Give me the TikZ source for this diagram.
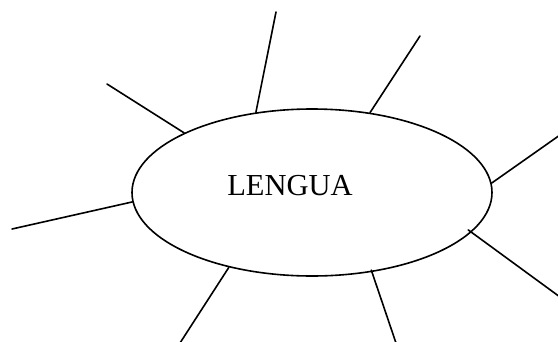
\documentclass[tikz,border=0pt]{standalone}
\usepackage{fontspec}
\setmainfont{Liberation Serif}
\usetikzlibrary{shapes.geometric}
\begin{document}
\begin{tikzpicture}[x=1pt,y=-1pt,
  ray/.style={line width=1.6pt,line cap=round},
  bubble/.style={ellipse,draw,line width=1.6pt,minimum width=360pt,minimum height=167pt,inner sep=0pt}]
\useasboundingbox (0,0) rectangle (558,341);
\node[bubble] (e) at (312,192.5) {};
\node[font=\fontsize{30.5}{33}\selectfont,inner sep=0pt] (t) at (290,186) {LENGUA};
\coordinate (p1) at (276,12);
\coordinate (p2) at (420,36);
\coordinate (p3) at (107,84);
\coordinate (p4) at (560,135);
\coordinate (p5) at (12,229);
\coordinate (p6) at (560,297);
\coordinate (p7) at (180,343);
\coordinate (p8) at (396,343);
\draw[ray] (e.125.9) -- (p1);
\draw[ray] (e.54.1) -- (p2);
\draw[ray] (e.155.8) -- (p3);
\draw[ray] (e.3.2) -- (p4);
\draw[ray] (e.183.5) -- (p5);
\draw[ray,shorten <=-4pt] (e.-14) -- (p6);
\draw[ray] (e.222.5) -- (p7);
\draw[ray,shorten <=-2pt] (e.307.9) -- (p8);
\end{tikzpicture}
\end{document}
